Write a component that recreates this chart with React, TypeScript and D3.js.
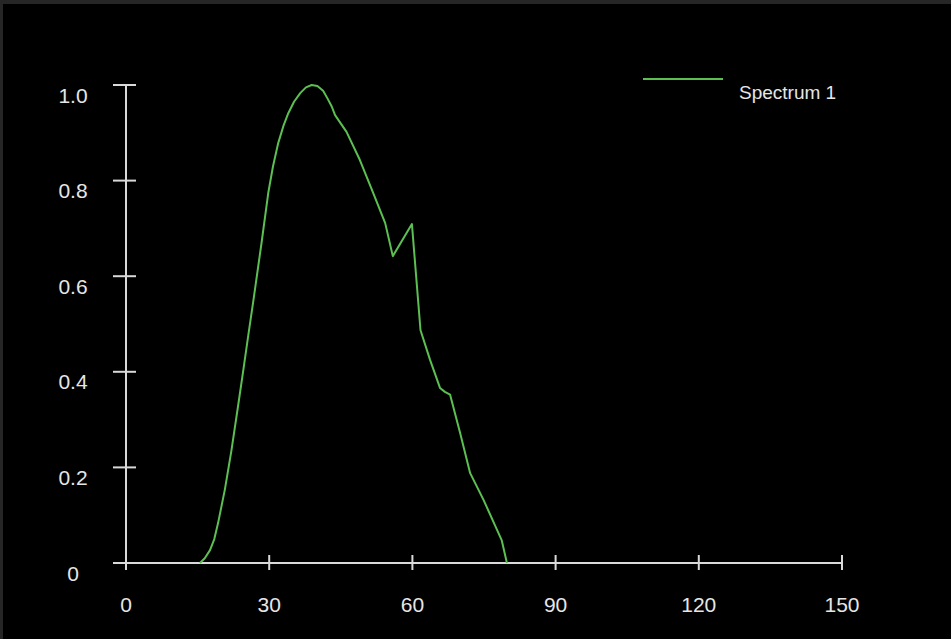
import React, { useRef, useEffect } from 'react';
import * as d3 from 'd3';

// spectrum samples
const wavelength = [15.5, 16.5, 17.6, 18.5, 19.3, 20.7, 22.1, 23.5, 24.6, 25.6, 26.7, 28.4, 29.8, 30.8, 31.9, 33.0, 34.0, 35.2, 36.5, 37.7, 38.9, 40.1, 41.3, 42.2, 43.1, 43.8, 46.2, 49.0, 51.8, 54.3, 55.9, 59.9, 61.7, 63.7, 65.8, 66.8, 67.9, 70.0, 72.1, 74.9, 78.7, 79.8];
const intensity = [0, 0.01, 0.027, 0.05, 0.084, 0.153, 0.236, 0.33, 0.405, 0.475, 0.55, 0.67, 0.774, 0.83, 0.879, 0.915, 0.941, 0.965, 0.983, 0.995, 1.0, 0.998, 0.988, 0.972, 0.955, 0.937, 0.902, 0.843, 0.774, 0.711, 0.642, 0.709, 0.487, 0.425, 0.366, 0.358, 0.352, 0.272, 0.188, 0.132, 0.048, 0];
const xTicks = [0, 30, 60, 90, 120, 150];
const yTicks = [0, 0.2, 0.4, 0.6, 0.8, 1.0];
const seriesName = 'Spectrum 1';

const W = 951;
const H = 639;

const App = () => {
    const ref = useRef<SVGSVGElement>(null);

    useEffect(() => {
        document.body.style.margin = '0';
        const svg = d3.select(ref.current);
        svg.selectAll('*').remove();

        const axisColor = '#d9d9d9';
        const textColor = '#e6e6e6';
        const lineColor = '#5cbf52';
        const font = 'Arial, "Liberation Sans", sans-serif';

        svg.append('rect').attr('width', W).attr('height', H).attr('fill', '#262626');
        svg.append('rect').attr('x', 3).attr('y', 4).attr('width', W - 3).attr('height', H - 4).attr('fill', '#000');

        const x = d3.scaleLinear().domain([0, 150]).range([126, 842]);
        const y = d3.scaleLinear().domain([0, 1]).range([563, 85]);

        // y axis
        const gy = svg.append('g');
        gy.append('line')
            .attr('x1', x(0)).attr('x2', x(0))
            .attr('y1', y(0)).attr('y2', y(1))
            .attr('stroke', axisColor).attr('stroke-width', 2);
        gy.selectAll('line.tick')
            .data(yTicks)
            .join('line')
            .attr('class', 'tick')
            .attr('x1', x(0) - 13).attr('x2', x(0) + 10)
            .attr('y1', d => y(d)).attr('y2', d => y(d))
            .attr('stroke', axisColor).attr('stroke-width', 2);
        gy.selectAll('text')
            .data(yTicks)
            .join('text')
            .attr('x', 73)
            .attr('y', d => y(d) + 12)
            .attr('text-anchor', 'middle')
            .attr('dominant-baseline', 'middle')
            .attr('fill', textColor)
            .attr('font-family', font)
            .attr('font-size', 21)
            .text(d => (d === 0 ? '0' : d3.format('.1f')(d)));

        // x axis
        const gx = svg.append('g');
        gx.append('line')
            .attr('x1', x(0) - 13).attr('x2', x(150))
            .attr('y1', y(0)).attr('y2', y(0))
            .attr('stroke', axisColor).attr('stroke-width', 2);
        gx.selectAll('line.tick')
            .data(xTicks)
            .join('line')
            .attr('class', 'tick')
            .attr('x1', d => x(d)).attr('x2', d => x(d))
            .attr('y1', y(0) - 8).attr('y2', y(0) + 7)
            .attr('stroke', axisColor).attr('stroke-width', 2);
        gx.selectAll('text')
            .data(xTicks)
            .join('text')
            .attr('x', d => x(d))
            .attr('y', y(0) + 43)
            .attr('text-anchor', 'middle')
            .attr('dominant-baseline', 'middle')
            .attr('fill', textColor)
            .attr('font-family', font)
            .attr('font-size', 21)
            .text(d => d);

        // spectrum line
        const line = d3.line<number>()
            .x((_, i) => x(wavelength[i]))
            .y(d => y(d))
            .curve(d3.curveLinear);
        svg.append('path')
            .datum(intensity)
            .attr('fill', 'none')
            .attr('stroke', lineColor)
            .attr('stroke-width', 2)
            .attr('stroke-linejoin', 'round')
            .attr('d', line);

        // legend
        const lg = svg.append('g');
        lg.append('line')
            .attr('x1', 643).attr('x2', 723)
            .attr('y1', 79).attr('y2', 79)
            .attr('stroke', lineColor).attr('stroke-width', 2);
        lg.append('text')
            .attr('x', 739).attr('y', 94)
            .attr('dominant-baseline', 'middle')
            .attr('fill', textColor)
            .attr('font-family', font)
            .attr('font-size', 19)
            .text(seriesName);
    }, []);

    return <svg ref={ref} width={W} height={H} style={{ display: 'block' }}></svg>;
};

export default App;
